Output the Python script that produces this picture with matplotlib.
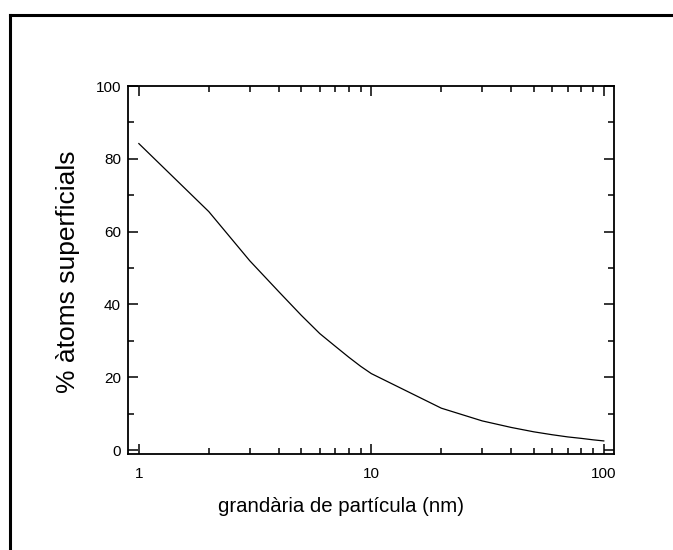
import matplotlib
matplotlib.use('Agg')
import matplotlib.pyplot as plt
from matplotlib.lines import Line2D
from matplotlib.ticker import FixedLocator, NullFormatter, MultipleLocator

plt.rcParams['font.family'] = ['Liberation Sans', 'DejaVu Sans']

'''Data read from the reference'''
size_nm = [1, 2, 3, 4, 5, 6, 7, 8, 9, 10, 20, 30, 40, 50, 60, 70, 80, 90, 100]
surface_pct = [84.2, 65.5, 52.0, 43.5, 37.0, 32.0, 28.5, 25.5, 23.0, 21.0,
               11.5, 8.0, 6.2, 5.0, 4.2, 3.6, 3.2, 2.8, 2.5]
x_ticks = [1, 10, 100]
x_tick_labels = ['1', '10', '100']

fig = plt.figure(figsize=(6.73, 5.5), dpi=100)
ax = fig.add_axes([0.190, 0.1745, 0.722, 0.669])
ax.plot(size_nm, surface_pct, color='black', lw=0.9)

ax.set_xscale('log')
ax.set_xlim(0.897, 110.4)
ax.set_ylim(-1.1, 100)
ax.xaxis.set_major_locator(FixedLocator(x_ticks))
ax.set_xticklabels(x_tick_labels)
ax.xaxis.set_minor_locator(FixedLocator([2, 3, 4, 5, 6, 7, 8, 9, 20, 30, 40, 50, 60, 70, 80, 90]))
ax.xaxis.set_minor_formatter(NullFormatter())
ax.yaxis.set_major_locator(MultipleLocator(20))
ax.yaxis.set_minor_locator(MultipleLocator(10))

ax.tick_params(which='both', direction='in', top=True, right=True, labelsize=11, width=1.1)
ax.tick_params(which='major', length=7)
ax.tick_params(which='minor', length=4)
ax.tick_params(axis='y', which='major', pad=5)
ax.tick_params(axis='x', which='major', pad=9)
for sp in ax.spines.values():
    sp.set_linewidth(1.3)

ax.set_xlabel('grandària de partícula (nm)', fontsize=14.7)
ax.set_ylabel('% àtoms superficials', fontsize=19)
ax.xaxis.set_label_coords(0.438, -0.117)
ax.yaxis.set_label_coords(-0.099, 0.496)

# frame of the original figure (only left and top edges visible)
fig.add_artist(Line2D([10/673, 10/673], [0, 1 - 15/550], transform=fig.transFigure, color='black', lw=2.2))
fig.add_artist(Line2D([10/673, 1], [1 - 15/550, 1 - 15/550], transform=fig.transFigure, color='black', lw=2.2))

plt.savefig('out.png', dpi=100)
